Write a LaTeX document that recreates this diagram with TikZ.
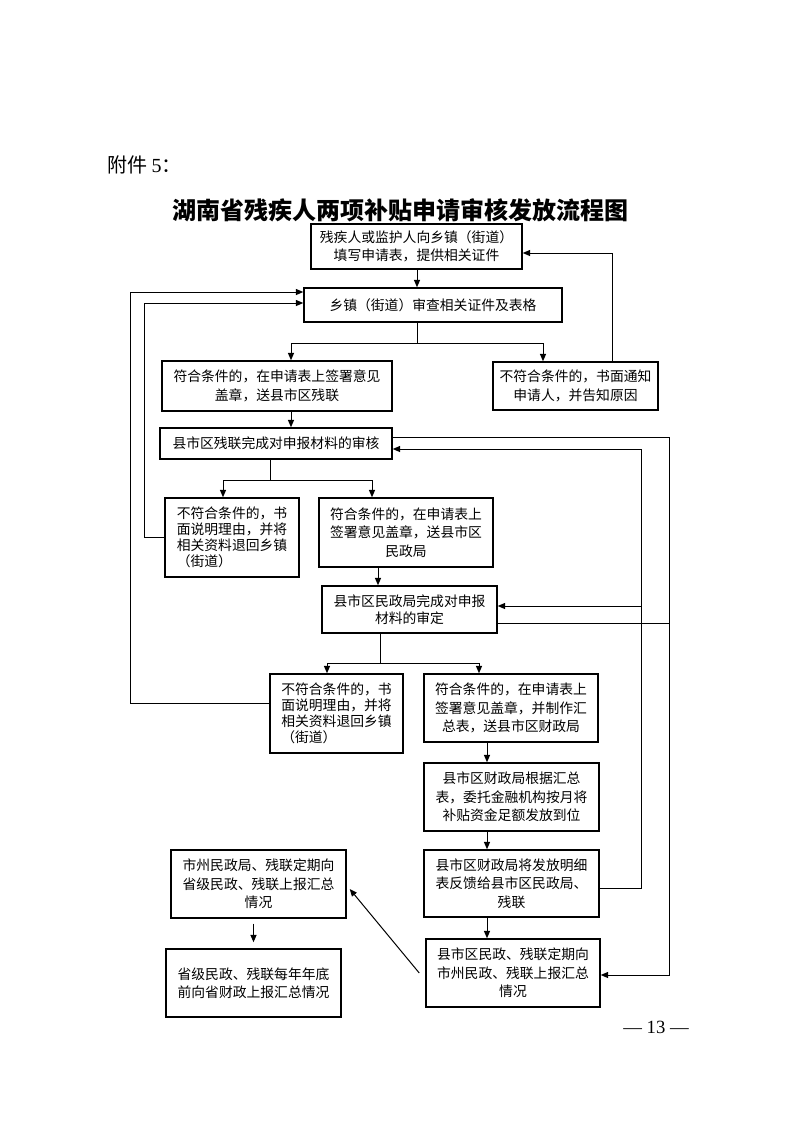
\documentclass[tikz,border=0pt]{standalone}
\usepackage{fontspec}
\newfontfamily\cjk{Noto Sans CJK SC}
\newfontfamily\sernum{Liberation Serif}
\usetikzlibrary{arrows.meta,calc}
\newcommand\boxfont{\cjk\fontsize{10.35pt}{13.9pt}\selectfont}
\newcommand\boxfonttight{\cjk\fontsize{10.35pt}{12pt}\selectfont}
\begin{document}
\begin{tikzpicture}[x=0.75pt,y=-0.75pt,
  box/.style={draw, line width=1.1pt, inner sep=0pt, align=center, font=\boxfont},
  sz/.style 2 args={minimum width={#1*0.75pt}, minimum height={#2*0.75pt}},
  ln/.style={line width=0.75pt},
  arr/.style={line width=0.75pt, -{Triangle[length=5.5pt,width=4.5pt]}}]
\useasboundingbox (0,0) rectangle (793,1122);
\fill[white] (0,0) rectangle (793,1122);

% headings
\node[anchor=west, inner sep=0pt, font={\cjk\fontsize{15pt}{18pt}\selectfont}] (att) at (107,165) {附件 {\sernum 5}：};
\node[inner sep=0pt, font={\cjk\bfseries\fontsize{18pt}{22pt}\selectfont}] (title) at (400.5,210) {湖南省残疾人两项补贴申请审核发放流程图};
\node[inner sep=0pt, font={\sernum\fontsize{14pt}{16pt}\selectfont}] (pg) at (656,1027) {— 13 —};

% boxes
\node[box, sz={211}{45}] (B1) at (416.5,246.5) {残疾人或监护人向乡镇（街道）\\填写申请表，提供相关证件};
\node[box, sz={258}{34}] (B2) at (433,305) {乡镇（街道）审查相关证件及表格};
\node[box, sz={230}{50}] (B3) at (277,386) {符合条件的，在申请表上签署意见\\盖章，送县市区残联};
\node[box, sz={165}{48}] (B4) at (575.5,386) {不符合条件的，书面通知\\申请人，并告知原因};
\node[box, sz={232}{31}] (B5) at (276,443.5) {县市区残联完成对申报材料的审核};
\node[box, sz={134}{79}, align=left, font=\boxfonttight] (B6) at (232,537.5) {不符合条件的，书\\面说明理由，并将\\相关资料退回乡镇\\（街道）};
\node[box, sz={174}{69}] (B7) at (406,532.5) {符合条件的，在申请表上\\签署意见盖章，送县市区\\民政局};
\node[box, sz={175}{47}, font={\cjk\fontsize{10.35pt}{12.5pt}\selectfont}] (B8) at (409.5,609.5) {县市区民政局完成对申报\\材料的审定};
\node[box, sz={133}{79}, align=left, font=\boxfonttight] (B9) at (336.5,713.5) {不符合条件的，书\\面说明理由，并将\\相关资料退回乡镇\\（街道）};
\node[box, sz={174}{68}] (B10) at (511,708) {符合条件的，在申请表上\\签署意见盖章，并制作汇\\总表，送县市区财政局};
\node[box, sz={175}{68}] (B11) at (511.5,797) {县市区财政局根据汇总\\表，委托金融机构按月将\\补贴资金足额发放到位};
\node[box, sz={175}{67}] (B12) at (511.5,883.5) {县市区财政局将发放明细\\表反馈给县市区民政局、\\残联};
\node[box, sz={174}{68}] (B13) at (513,973) {县市区民政、残联定期向\\市州民政、残联上报汇总\\情况};
\node[box, sz={175}{68}] (B14) at (258.5,884) {市州民政局、残联定期向\\省级民政、残联上报汇总\\情况};
\node[box, sz={175}{68}] (B15) at (253.5,983) {省级民政、残联每年年底\\前向省财政上报汇总情况};

% junction coordinates
\coordinate (j1) at (417,343);
\coordinate (j1l) at (291,343);
\coordinate (j1r) at (543,343);
\coordinate (r1) at (612,253);
\coordinate (j2) at (270,480);
\coordinate (j2l) at (223,480);
\coordinate (j2r) at (372,480);
\coordinate (l1) at (144,303);
\coordinate (l2) at (130,292);
\coordinate (l2b) at (130,703);
\coordinate (a78) at (378,0);
\coordinate (j3) at (380,663);
\coordinate (j3l) at (327,663);
\coordinate (j3r) at (479,663);
\coordinate (xc) at (487,0);
\coordinate (R1) at (669,437);
\coordinate (R1b) at (669,975);
\coordinate (R3) at (669,623);
\coordinate (R2) at (641,449);
\coordinate (R2m) at (641,606);
\coordinate (R2b) at (641,888);

% connectors
\draw[arr] (B1.south -| j1) -- (B2.north -| j1);
\draw[ln] (B2.south -| j1) -- (j1);
\draw[arr] (j1) -- (j1l) -- (B3.north -| j1l);
\draw[arr] (j1) -- (j1r) -- (B4.north -| j1r);
\draw[arr] (B4.north -| r1) -- (r1) -- (r1 -| B1.east);
\draw[arr] (B3.south -| j1l) -- (B5.north -| j1l);
\draw[ln] (B5.south -| j2) -- (j2);
\draw[arr] (j2) -- (j2l) -- (B6.north -| j2l);
\draw[arr] (j2) -- (j2r) -- (B7.north -| j2r);
\draw[arr] (B6.west) -- (B6.west -| l1) -- (l1) -- (l1 -| B2.west);
\draw[arr] (l2b -| B9.west) -- (l2b) -- (l2) -- (l2 -| B2.west);
\draw[arr] (B7.south -| a78) -- (B8.north -| a78);
\draw[ln] (B8.south -| j3) -- (j3);
\draw[arr] (j3) -- (j3l) -- (B9.north -| j3l);
\draw[arr] (j3) -- (j3r) -- (B10.north -| j3r);
\draw[arr] (B10.south -| xc) -- (B11.north -| xc);
\draw[arr] (B11.south -| xc) -- (B12.north -| xc);
\draw[arr] (B12.south -| xc) -- (B13.north -| xc);
\draw[arr] (R1 -| B5.east) -- (R1) -- (R1b) -- (R1b -| B13.east);
\draw[ln] (R3 -| B8.east) -- (R3);
\draw[arr] (R2b -| B12.east) -- (R2b) -- (R2) -- (R2 -| B5.east);
\draw[arr] (R2m) -- (R2m -| B8.east);
\draw[arr] ($(B13.west)+(-6,0)$) -- ($(B14.east)+(3,5)$);
\draw[arr] ($(B14.south -| B15.north)+(0,5)$) -- ($(B15.north)+(0,-6)$);
\end{tikzpicture}
\end{document}
